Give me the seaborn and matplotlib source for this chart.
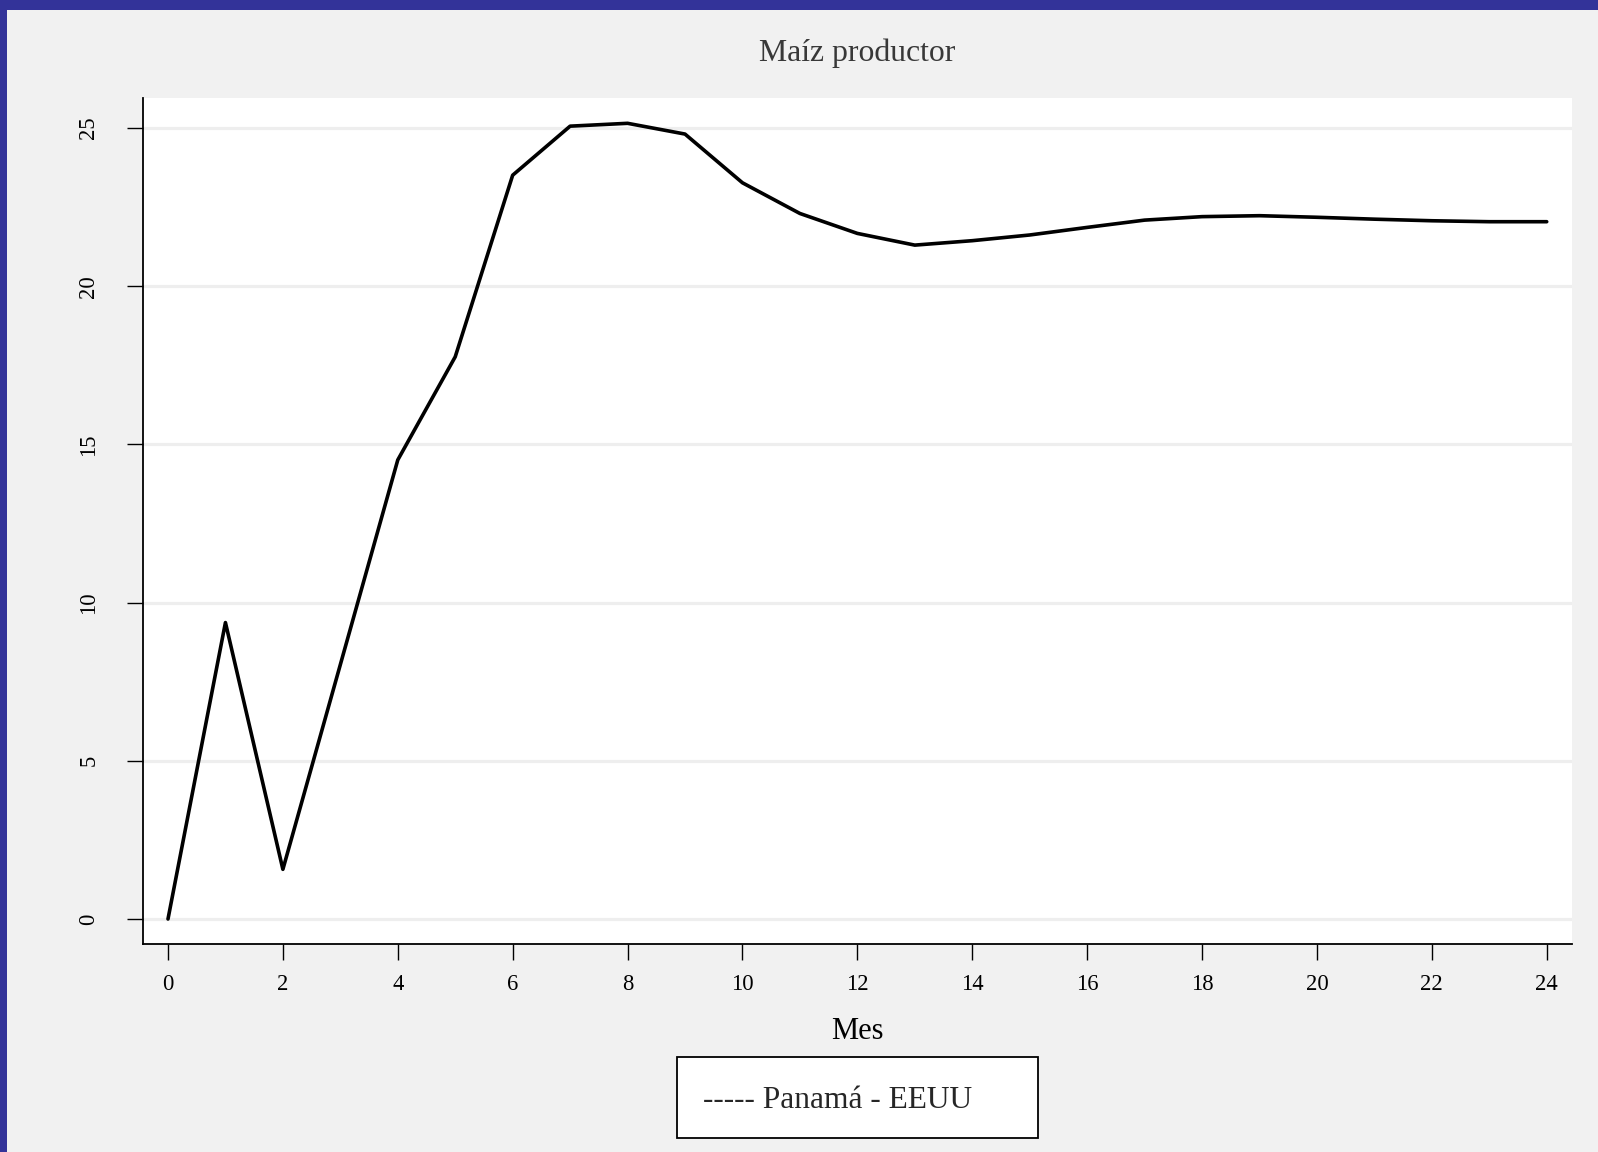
import numpy as np
import pandas as pd
import matplotlib
matplotlib.use("Agg")
import matplotlib.pyplot as plt
from matplotlib.patches import Rectangle
import seaborn as sns

# Datos: respuesta del precio al productor de maiz
mes = list(range(0, 25))
valores = [0.0, 9.37, 1.57, 8.04, 14.51, 17.77, 23.51, 25.06, 25.15, 24.81,
           23.27, 22.30, 21.67, 21.30, 21.44, 21.62, 21.86, 22.09, 22.20,
           22.23, 22.18, 22.12, 22.07, 22.04, 22.04]
serie = "----- Panamá - EEUU"
titulo = "Maíz productor"
xticks = list(range(0, 25, 2))
yticks = [0, 5, 10, 15, 20, 25]

df = pd.DataFrame({"Mes": mes, "valor": valores})

sns.set_theme(style="white")
plt.rcParams["font.family"] = ["Liberation Serif", "DejaVu Serif"]

W, H = 1598, 1152
fig = plt.figure(figsize=(W / 100, H / 100), dpi=100, facecolor="#f1f1f1")
ax = fig.add_axes([143 / W, 1 - 944 / H, 1429 / W, 846 / H])
ax.set_facecolor("white")

# borde azul (izquierda y arriba)
fig.add_artist(Rectangle((0, 0), 7 / W, 1, transform=fig.transFigure,
                         fc="#333399", ec="none", zorder=10))
fig.add_artist(Rectangle((0, 1 - 10 / H), 1, 10 / H, transform=fig.transFigure,
                         fc="#333399", ec="none", zorder=10))

sns.lineplot(data=df, x="Mes", y="valor", color="black", lw=2.6, label=serie, ax=ax)

ax.set_xlim(-0.435, 24.44)
ax.set_ylim(-0.79, 25.95)
ax.set_xticks(xticks)
ax.set_yticks(yticks)
ax.yaxis.grid(True, color="#eeeeee", lw=2.3)
ax.set_axisbelow(True)

for s in ["top", "right"]:
    ax.spines[s].set_visible(False)
for s in ["left", "bottom"]:
    ax.spines[s].set_color("black")
    ax.spines[s].set_linewidth(1.3)

ax.tick_params(axis="both", which="major", direction="out", length=11.5, width=1.0,
               color="black", labelsize=16.3, labelcolor="black",
               bottom=True, left=True)
ax.tick_params(axis="x", pad=10)
ax.tick_params(axis="y", pad=20)
for lab in ax.get_yticklabels():
    lab.set_rotation(90)
    lab.set_va("center")

ax.set_title(titulo, fontsize=22.9, color="#383838", pad=26.6)
ax.set_xlabel("Mes", fontsize=22, color="black", labelpad=16)
ax.set_ylabel("")

# caja de la leyenda
fig.add_artist(Rectangle((677 / W, 1 - 1138 / H), 361 / W, 81 / H,
                         transform=fig.transFigure, fc="white", ec="black",
                         lw=1.3, zorder=-1))
leg = ax.legend(loc="center left", bbox_to_anchor=(703 / W, 1 - 1100 / H),
                bbox_transform=fig.transFigure, frameon=False, handlelength=0,
                handletextpad=0, borderpad=0, borderaxespad=0, fontsize=22.7)
for h in leg.legend_handles:
    h.set_visible(False)

fig.savefig("out.png", dpi=100, facecolor=fig.get_facecolor())
